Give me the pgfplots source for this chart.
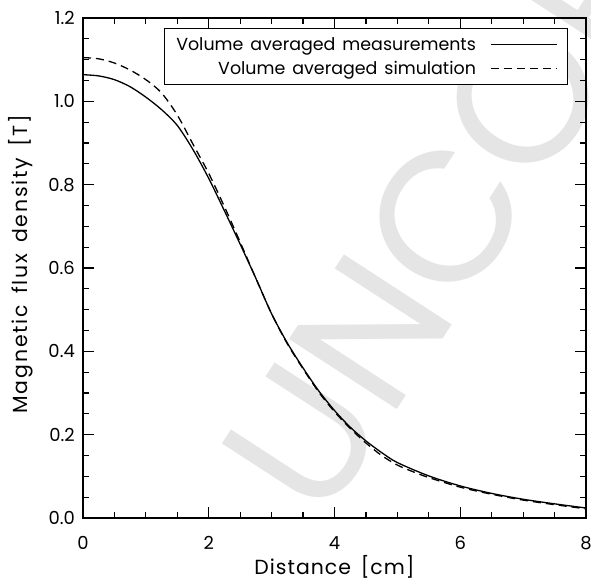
\documentclass[border=0pt]{standalone}
\usepackage{fontspec}
\setmainfont{Poppins}[WordSpace=1.5]
\usepackage{pgfplots}
\pgfplotsset{compat=1.18}
\begin{document}
\begin{tikzpicture}
\useasboundingbox (-83bp,-63bp) rectangle (508bp,518bp);
\node[overlay, rotate=57, anchor=base west, text=black!10, font=\fontsize{185}{185}\selectfont, inner sep=0pt] at (239bp,-8bp) {UNCORRECTED PROOF};
\begin{axis}[
  scale only axis, width=503bp, height=500bp,
  xmin=0, xmax=8, ymin=0, ymax=1.2,
  xtick={0,2,4,6,8}, ytick={0,0.2,0.4,0.6,0.8,1.0,1.2},
  minor x tick num=3, minor y tick num=3,
  tick align=inside, xtick pos=both, ytick pos=both,
  major tick length=11bp, minor tick length=6bp,
  axis line style={line width=1.8bp},
  every tick/.style={black, line width=1.2bp},
  tick label style={font=\fontsize{18}{20}\selectfont},
  /pgf/number format/assume math mode=true,
  yticklabel style={/pgf/number format/fixed, /pgf/number format/fixed zerofill, /pgf/number format/precision=1},
  yticklabel style={anchor=east, inner sep=0pt, xshift=-8bp},
  xticklabel style={anchor=center, inner sep=0pt, yshift=-25bp},
  xlabel={\fontsize{20.5}{24}\selectfont\addfontfeatures{LetterSpace=5}Distance [cm]},
  ylabel={\fontsize{20.5}{24}\selectfont\addfontfeatures{LetterSpace=9}Magnetic\hspace{11bp}flux\hspace{11bp}density\hspace{11bp}[T]},
  every axis x label/.style={at={(axis description cs:0.5,0)}, anchor=center, yshift=-49bp},
  every axis y label/.style={at={(axis description cs:-0.1233,0.508)}, rotate=90, anchor=center},
  legend cell align=right, legend plot pos=right,
  legend image code/.code={\draw[#1] (0bp,0bp) -- (66bp,0bp);},
  legend style={at={(0.964,0.98)}, anchor=north east, draw=black, line width=1.3bp,
    inner xsep=10bp, inner ysep=7bp, row sep=5bp,
    /tikz/every odd column/.append style={column sep=12bp},
    font=\fontsize{17.5}{20}\selectfont},
]
\addplot[black, line width=1.3bp, smooth] coordinates {
(0,1.064) (0.25,1.061) (0.5,1.052) (0.75,1.035) (1.0,1.01) (1.25,0.98) (1.5,0.942)
(1.75,0.884) (2.0,0.815) (2.25,0.737) (2.5,0.657) (2.75,0.575) (3.0,0.49) (3.25,0.42)
(3.5,0.36) (3.75,0.305) (4.0,0.258) (4.25,0.218) (4.5,0.185) (4.75,0.157) (5.0,0.133)
(5.5,0.101) (6.0,0.077) (6.5,0.059) (7.0,0.045) (7.5,0.034) (8.0,0.024)};
\addlegendentry{Volume averaged measurements}
\addplot[black, line width=1.3bp, dash pattern=on 8bp off 5bp, smooth] coordinates {
(0,1.105) (0.25,1.102) (0.5,1.092) (0.75,1.075) (1.0,1.052) (1.25,1.02) (1.5,0.967)
(1.75,0.897) (2.0,0.827) (2.25,0.747) (2.5,0.662) (2.75,0.575) (3.0,0.49) (3.25,0.418)
(3.5,0.358) (3.75,0.302) (4.0,0.255) (4.25,0.215) (4.5,0.18) (4.75,0.15) (5.0,0.127)
(5.25,0.111) (5.5,0.097) (6.0,0.074) (6.5,0.057) (7.0,0.043) (7.5,0.032) (8.0,0.022)};
\addlegendentry{Volume averaged simulation}
\end{axis}
\end{tikzpicture}
\end{document}
